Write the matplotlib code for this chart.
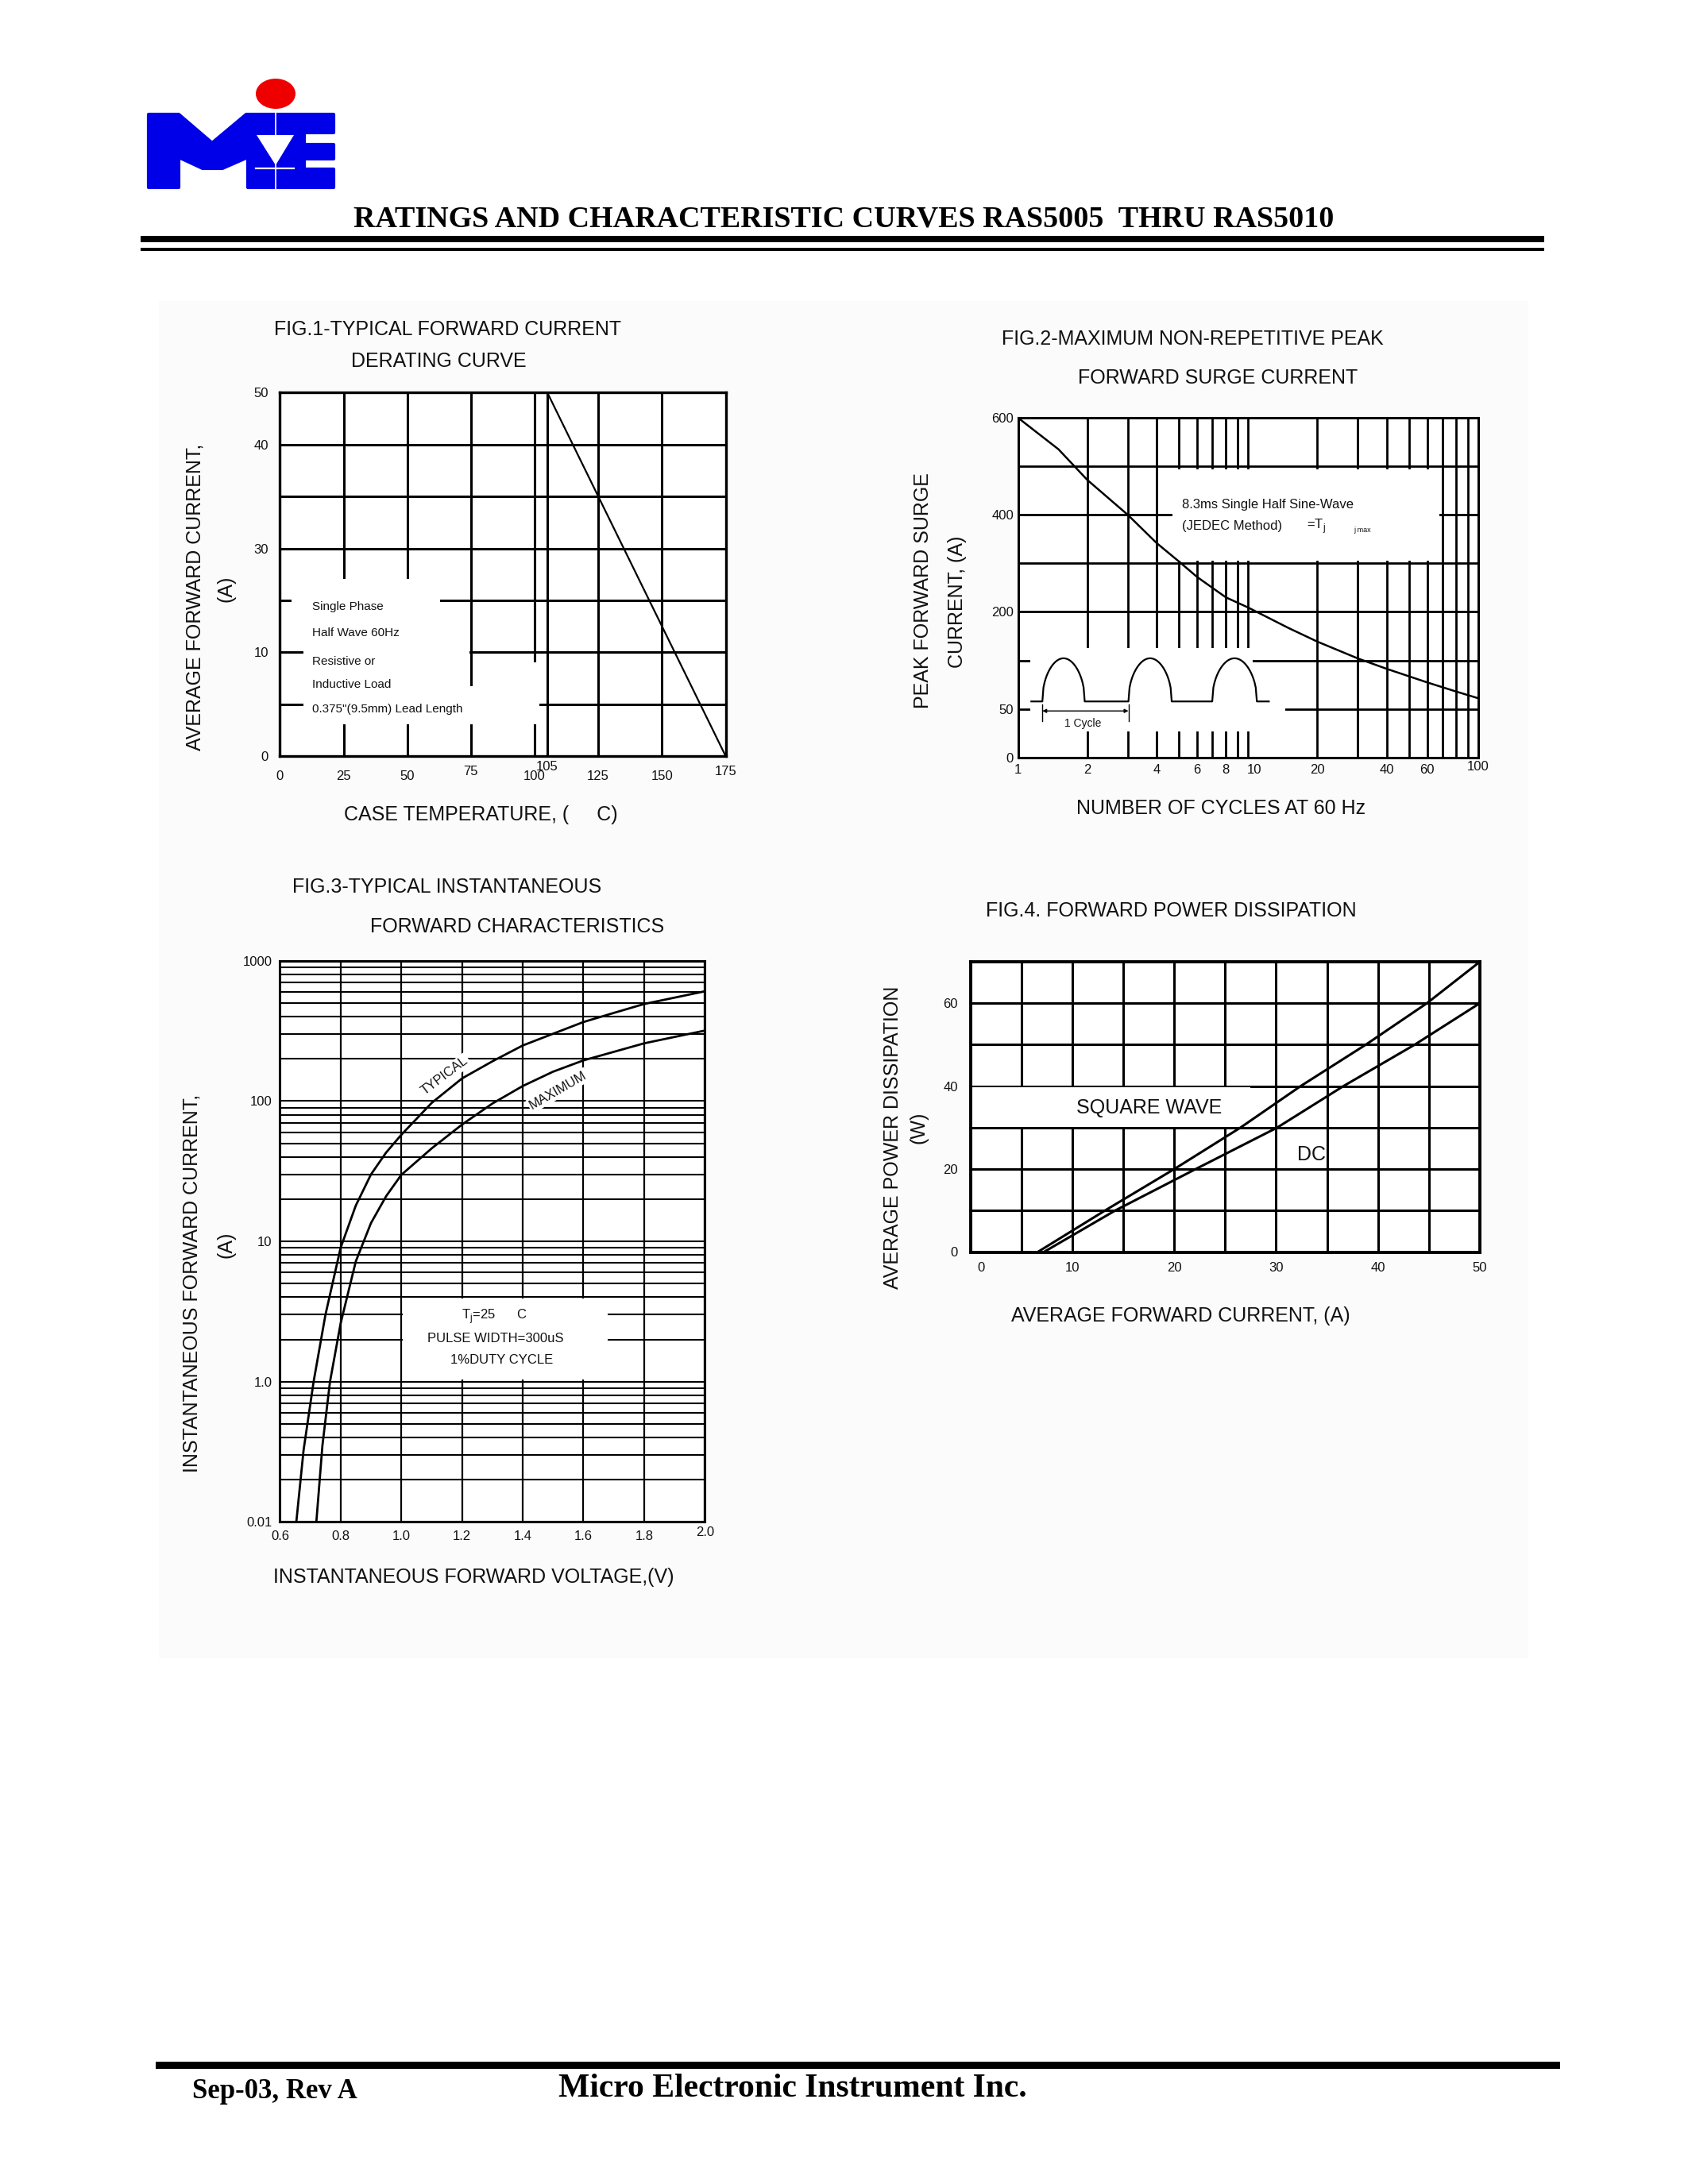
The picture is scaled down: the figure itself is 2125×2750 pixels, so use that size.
import numpy as np
import matplotlib
matplotlib.use("Agg")
from matplotlib import pyplot as plt
from matplotlib import transforms
from matplotlib.patches import Polygon, Rectangle, Ellipse
from matplotlib.ticker import LogLocator, NullFormatter, NullLocator

W, H = 2125, 2750
plt.rcParams['font.family'] = ['Liberation Sans', 'DejaVu Sans']
INK = "#111111"

# FIG.1 forward current derating
case_temp = [0, 105, 175]
fwd_current = [50, 50, 0]
fig1_xticks = [0, 25, 50, 75, 100, 105, 125, 150, 175]
fig1_ylabels = ["0", "", "10", "", "30", "", "40", "50"]   # one per grid row, bottom up
fig1_notes = ["Single Phase", "Half Wave 60Hz", "Resistive or", "Inductive Load",
              '0.375"(9.5mm) Lead Length']

# FIG.2 peak forward surge current
n_cycles = [1, 1.5, 2, 3, 4, 5, 6, 8, 10, 15, 20, 30, 40, 60, 80, 100]
peak_surge = [600, 535, 472, 400, 342, 304, 272, 230, 209, 175, 154, 128, 112, 91, 77, 66.5]
fig2_xticks = [1, 2, 4, 6, 8, 10, 20, 40, 60, 100]
fig2_yvals = [0, 50, 200, 400, 600]
fig2_yrows = [0, 1, 3, 5, 7]

# FIG.3 forward characteristics
vf_typical = [0.654, 0.678, 0.711, 0.75, 0.80, 0.85, 0.90, 0.95, 1.0, 1.1, 1.2, 1.3, 1.4,
              1.5, 1.6, 1.7, 1.8, 2.0]
if_typical = [0.1, 0.326, 1.0, 3.0, 9.0, 18, 30, 43, 57.5, 97, 145, 192, 249,
              302, 366, 425, 492, 606]
vf_maximum = [0.72, 0.74, 0.765, 0.8, 0.85, 0.9, 0.95, 1.0, 1.1, 1.2, 1.3, 1.4, 1.5,
              1.6, 1.8, 2.0]
if_maximum = [0.1, 0.35, 1.0, 2.6, 7.2, 13.5, 21, 29.8, 46, 68, 96, 128, 162,
              195, 258, 318]
fig3_xticks = [0.6, 0.8, 1.0, 1.2, 1.4, 1.6, 1.8, 2.0]
fig3_xlabels = ["0.6", "0.8", "1.0", "1.2", "1.4", "1.6", "1.8", "2.0"]
fig3_yticks = [0.1, 1, 10, 100, 1000]
fig3_ylabels = ["0.01", "1.0", "10", "100", "1000"]

# FIG.4 forward power dissipation
sq_current = [6.6, 13.2, 20.0, 26.5, 32.4, 38.8, 44.8, 50]
sq_power = [0, 10, 20, 30, 40, 50, 60, 70]
dc_current = [7.2, 14.2, 22.1, 30.1, 36.6, 43.6, 49.8]
dc_power = [0, 10, 20, 30, 40, 50, 59.7]
fig4_xticks = [0, 10, 20, 30, 40, 50]
fig4_yticks = [0, 20, 40, 60]

fig = plt.figure(figsize=(W / 100, H / 100), dpi=100)


def box(l, t, r, b):
    return [l / W, 1 - b / H, (r - l) / W, (b - t) / H]


def put(x, y, s, **kw):
    kw.setdefault('ha', 'center')
    kw.setdefault('va', 'center')
    kw.setdefault('color', INK)
    fig.text(x / W, 1 - y / H, s, **kw)


def frame(ax, lw, pad):
    ax.set_facecolor('white')
    for s in ax.spines.values():
        s.set_linewidth(lw)
        s.set_color('black')
    ax.tick_params(length=0, labelbottom=False, labelsize=12, pad=pad, labelcolor=INK)


def xtick_text(ax, vals, texts, drop, lifts=None, shifts=None):
    lifts = lifts or {}
    shifts = shifts or {}
    for v, t in zip(vals, texts):
        tr = transforms.offset_copy(ax.get_xaxis_transform(), fig=fig, x=shifts.get(t, 0),
                                    y=-(drop - lifts.get(t, 0)), units='dots')
        ax.text(v, 0, t, transform=tr, ha='center', va='center', fontsize=12,
                color=INK, clip_on=False)


def blank(ax, x0, x1, y0, y1):
    ax.add_patch(Rectangle((x0, y0), x1 - x0, y1 - y0, fc='white', ec='none', zorder=1.7))


# ---------- page furniture ----------
page = fig.add_axes([0, 0, 1, 1], zorder=0)
page.set_xlim(0, W)
page.set_ylim(H, 0)
page.axis('off')
page.add_patch(Rectangle((200, 379), 1724, 1709, fc='#fbfbfb', ec='none'))
page.add_patch(Rectangle((177, 297), 1767, 8, fc='black', ec='none'))
page.add_patch(Rectangle((177, 312), 1767, 4, fc='black', ec='none'))
page.add_patch(Rectangle((196, 2596), 1768, 9, fc='black', ec='none'))

blue = "#0000e8"
logo = [(187, 144), (225, 144), (267, 180), (310, 144), (420, 144), (420, 167), (383, 167),
        (383, 182), (420, 182), (420, 200), (383, 200), (383, 213), (420, 213), (420, 236),
        (312, 236), (312, 198), (280, 212), (255, 212), (225, 198), (225, 236), (187, 236)]
page.add_patch(Polygon(logo, closed=True, fc=blue, ec=blue, lw=3, joinstyle='round'))
page.add_patch(Polygon([(323, 170), (370, 170), (347, 208)], closed=True, fc='white', ec='none'))
page.plot([347, 347], [142, 238], color='white', lw=1.2)
page.plot([322, 370], [212, 212], color='white', lw=1.6)
page.add_patch(Ellipse((347, 118), 50, 38, fc='#ee0000', ec='none'))

put(1062, 276, "RATINGS AND CHARACTERISTIC CURVES RAS5005  THRU RAS5010",
    fontsize=27.4, family='Liberation Serif', weight='bold', color='black')
put(242, 2633, "Sep-03, Rev A", ha='left', fontsize=25, family='Liberation Serif',
    weight='bold', color='black')
put(703, 2630, "Micro Electronic Instrument Inc.", ha='left', fontsize=30,
    family='Liberation Serif', weight='bold', color='black')

# ---------- FIG.1 ----------
ax1 = fig.add_axes(box(352.4, 494.4, 913.5, 952), zorder=1)
frame(ax1, 2.4, 10.5)
ax1.set_xlim(0, 175)
ax1.set_ylim(0, 50)
ax1.set_xticks(fig1_xticks)
ax1.set_yticks(np.linspace(0, 50, len(fig1_ylabels)), fig1_ylabels)
ax1.grid(True, color='black', lw=2.2)
blank(ax1, 4.5, 62.8, 16.5, 24.4)
blank(ax1, 9.1, 74.5, 9.6, 16.5)
blank(ax1, 9.1, 102, 4.4, 9.6)
blank(ax1, 76, 102, 9.6, 12.9)
ax1.plot(case_temp, fwd_current, color='black', lw=1.6, zorder=3, clip_on=False)
xtick_text(ax1, fig1_xticks, [str(v) for v in fig1_xticks], 25,
           lifts={"105": 11, "75": 5, "175": 5})
for k, note in enumerate(fig1_notes):
    ax1.text(0.073, [0.411, 0.339, 0.261, 0.197, 0.129][k], note, transform=ax1.transAxes,
             fontsize=11, ha='left', va='center', color=INK, zorder=3)
put(564, 415, "FIG.1-TYPICAL FORWARD CURRENT", fontsize=18)
put(552, 455, "DERATING CURVE", fontsize=18)
put(245, 752, "AVERAGE FORWARD CURRENT,", fontsize=18, rotation=90)
put(284, 741, "(A)", fontsize=18, rotation=90)
put(605, 1026, "CASE TEMPERATURE, (     C)", fontsize=18)

# ---------- FIG.2 ----------
def to_rows(v):
    return np.interp(v, fig2_yvals, fig2_yrows)


def from_rows(r):
    return np.interp(r, fig2_yrows, fig2_yvals)


ax2 = fig.add_axes(box(1281.5, 526, 1861, 953.8), zorder=1)
frame(ax2, 2.2, 4)
ax2.set_xscale('log')
ax2.set_yscale('function', functions=(to_rows, from_rows))
ax2.set_xlim(1, 100)
ax2.set_ylim(0, 600)
ax2.set_xticks(list(range(1, 10)) + list(range(10, 101, 10)))
ax2.xaxis.set_minor_locator(NullLocator())
ax2.xaxis.set_minor_formatter(NullFormatter())
rows = np.arange(8)
ax2.set_yticks(from_rows(rows),
               [str(fig2_yvals[fig2_yrows.index(r)]) if r in fig2_yrows else "" for r in rows])
ax2.yaxis.set_minor_locator(NullLocator())
ax2.grid(True, color='black', lw=2.0)
blank(ax2, 4.69, 68, 306, 494)
blank(ax2, 1.13, 10.5, 27, 144)
blank(ax2, 10.5, 14.5, 27, 62)
ax2.plot(n_cycles, peak_surge, color='black', lw=1.8, zorder=3)
xtick_text(ax2, fig2_xticks, [str(v) for v in fig2_xticks], 16, lifts={"100": 4},
           shifts={"10": 8})
ax2.text(0.357, 0.745, "8.3ms Single Half Sine-Wave", transform=ax2.transAxes,
         fontsize=12, ha='left', va='center', color=INK, zorder=3)
ax2.text(0.357, 0.680, "(JEDEC Method)", transform=ax2.transAxes,
         fontsize=12, ha='left', va='center', color=INK, zorder=3)
ax2.text(0.627, 0.680, r"=T$_\mathregular{j}$", transform=ax2.transAxes,
         fontsize=12, ha='left', va='center', color=INK, zorder=3)
ax2.text(0.730, 0.670, "j max", transform=ax2.transAxes,
         fontsize=6.5, ha='left', va='center', color=INK, zorder=3)

# half sine wave sketch
base, top = 0.165, 0.292
humps = [(0.053, 0.145), (0.240, 0.334), (0.422, 0.519)]
wx, wy = [0.029], [base]
for a, b in humps:
    t = np.linspace(0, 1, 40)
    wx += list(a + (b - a) * t)
    wy += list(base + (top - base) * np.sin(np.pi * t) ** 0.45)
wx.append(0.545)
wy.append(base)
ax2.plot(wx, wy, color='black', lw=1.6, transform=ax2.transAxes, zorder=3)
ax2.annotate("", xy=(0.240, 0.137), xytext=(0.053, 0.137), xycoords='axes fraction',
             arrowprops=dict(arrowstyle='<|-|>', lw=1, color='black', shrinkA=0, shrinkB=0,
                             mutation_scale=7), zorder=3)
for xe in (0.053, 0.240):
    ax2.plot([xe, xe], [0.107, 0.157], color='black', lw=1, transform=ax2.transAxes, zorder=3)
ax2.text(0.141, 0.100, "1 Cycle", transform=ax2.transAxes, fontsize=10, ha='center',
         va='center', color=INK, zorder=3)

put(1501, 427, "FIG.2-MAXIMUM NON-REPETITIVE PEAK", fontsize=18)
put(1533, 476, "FORWARD SURGE CURRENT", fontsize=18)
put(1162, 744, "PEAK FORWARD SURGE", fontsize=18, rotation=90)
put(1205, 758, "CURRENT, (A)", fontsize=18, rotation=90)
put(1537, 1018, "NUMBER OF CYCLES AT 60 Hz", fontsize=18)

# ---------- FIG.3 ----------
ax3 = fig.add_axes(box(352.4, 1209.8, 887.2, 1916.4), zorder=1)
frame(ax3, 2.2, 7)
ax3.set_yscale('log')
ax3.set_xlim(0.6, 2.0)
ax3.set_ylim(0.1, 1000)
ax3.set_xticks(fig3_xticks)
ax3.set_yticks(fig3_yticks, fig3_ylabels)
ax3.yaxis.set_minor_locator(LogLocator(base=10, subs=range(2, 10), numticks=20))
ax3.yaxis.set_minor_formatter(NullFormatter())
ax3.tick_params(which='minor', length=0)
ax3.grid(True, which='both', axis='y', color='black', lw=1.5)
ax3.grid(True, which='major', axis='x', color='black', lw=1.6)
blank(ax3, 1.004, 1.68, 1.03, 3.9)
ax3.plot(vf_typical, if_typical, color='black', lw=2, zorder=3)
ax3.plot(vf_maximum, if_maximum, color='black', lw=2, zorder=3)
xtick_text(ax3, fig3_xticks, fig3_xlabels, 18, lifts={"2.0": 5})
ax3.text(0.388, 0.795, "TYPICAL", transform=ax3.transAxes, rotation=37, fontsize=12,
         ha='center', va='center', color=INK, zorder=4,
         bbox=dict(fc='white', ec='none', pad=1.5))
ax3.text(0.655, 0.769, "MAXIMUM", transform=ax3.transAxes, rotation=30, fontsize=12,
         ha='center', va='center', color=INK, zorder=4,
         bbox=dict(fc='white', ec='none', pad=1.5))
ax3.text(0.504, 0.366, r"T$_\mathregular{j}$=25      C", transform=ax3.transAxes,
         fontsize=12, ha='center', va='center', color=INK, zorder=3)
ax3.text(0.508, 0.327, "PULSE WIDTH=300uS", transform=ax3.transAxes,
         fontsize=12, ha='center', va='center', color=INK, zorder=3)
ax3.text(0.522, 0.288, "1%DUTY CYCLE", transform=ax3.transAxes,
         fontsize=12, ha='center', va='center', color=INK, zorder=3)
put(563, 1117, "FIG.3-TYPICAL INSTANTANEOUS", fontsize=18)
put(651, 1167, "FORWARD CHARACTERISTICS", fontsize=18)
put(242, 1616, "INSTANTANEOUS FORWARD CURRENT,", fontsize=18, rotation=90)
put(284, 1567, "(A)", fontsize=18, rotation=90)
put(596, 1986, "INSTANTANEOUS FORWARD VOLTAGE,(V)", fontsize=18)

# ---------- FIG.4 ----------
ax4 = fig.add_axes(box(1221.7, 1211, 1863, 1576.5), zorder=1)
frame(ax4, 2.8, 11.5)
ax4.set_xlim(0, 50)
ax4.set_ylim(0, 70)
ax4.set_xticks(np.arange(0, 51, 5))
ax4.set_yticks(np.arange(0, 71, 10),
               [str(v) if v in fig4_yticks else "" for v in range(0, 71, 10)])
ax4.grid(True, color='black', lw=2.2)
blank(ax4, 0.2, 27.5, 30.25, 39.75)
ax4.plot(sq_current, sq_power, color='black', lw=2.2, zorder=3, clip_on=False)
ax4.plot(dc_current, dc_power, color='black', lw=2.2, zorder=3)
xtick_text(ax4, fig4_xticks, [str(v) for v in fig4_xticks], 20, shifts={"0": 13})
ax4.text(0.351, 0.497, "SQUARE WAVE", transform=ax4.transAxes, fontsize=18,
         ha='center', va='center', color=INK, zorder=3)
ax4.text(0.669, 0.335, "DC", transform=ax4.transAxes, fontsize=18,
         ha='center', va='center', color=INK, zorder=3)
put(1474, 1147, "FIG.4. FORWARD POWER DISSIPATION", fontsize=18)
put(1124, 1432, "AVERAGE POWER DISSIPATION", fontsize=18, rotation=90)
put(1157, 1420, "(W)", fontsize=18, rotation=90)
put(1486, 1657, "AVERAGE FORWARD CURRENT, (A)", fontsize=18)

fig.savefig("out.png", dpi=100)
